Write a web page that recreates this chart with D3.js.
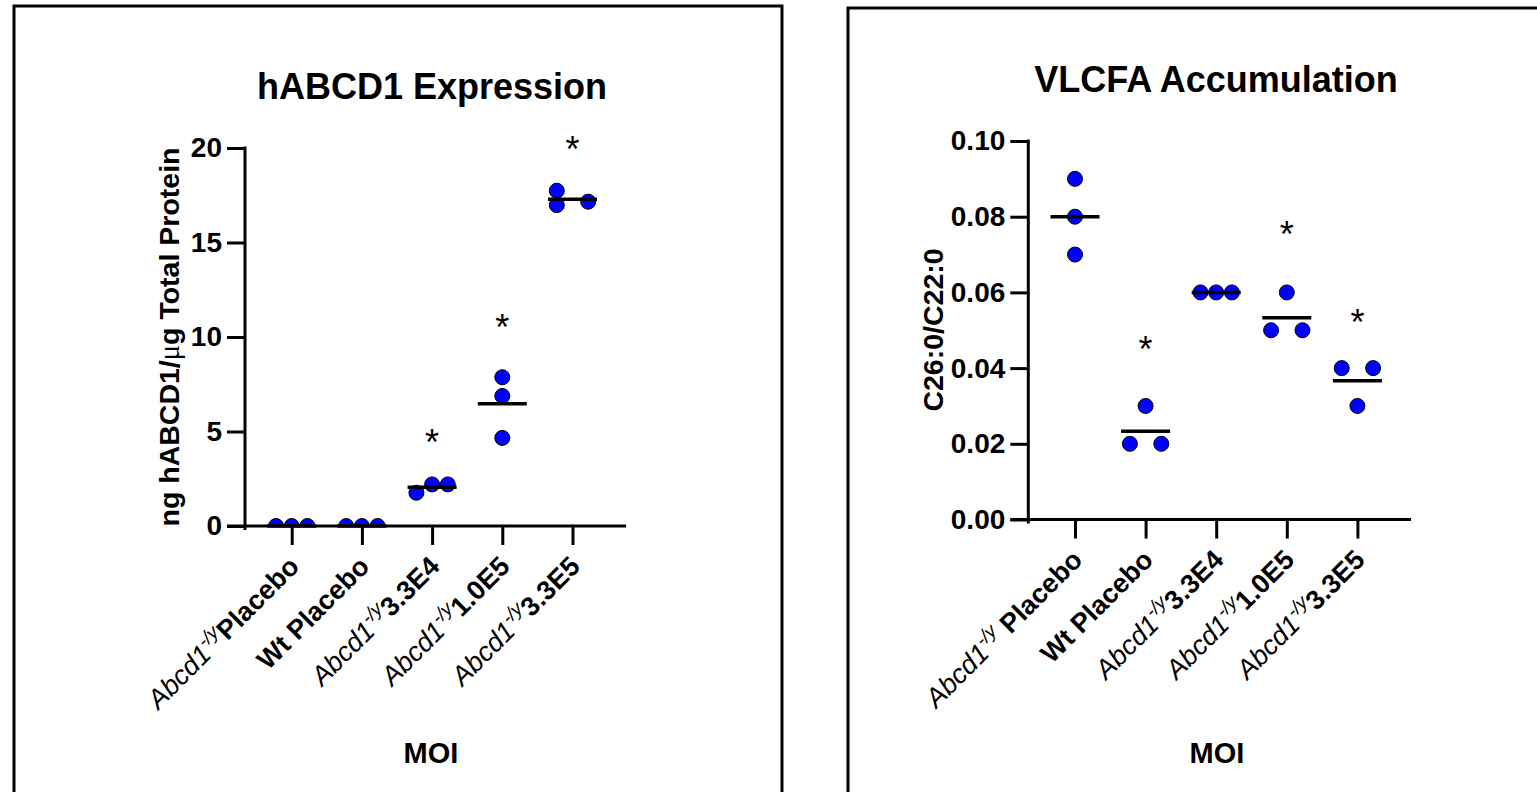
<!DOCTYPE html>
<html>
<head>
<meta charset="utf-8">
<script src="https://cdn.jsdelivr.net/npm/d3@7"></script>
<style>
  body { margin: 0; background: #fff; }
  text { font-family: Arial, "Liberation Sans", Helvetica, sans-serif; }
</style>
</head>
<body>
<div id="chart"></div>
<script>
// groups on the x axis, split in the three styles the labels use
const labelItalic = ["Abcd1", "", "Abcd1", "Abcd1", "Abcd1"];
const labelSup = ["-/y", "", "-/y", "-/y", "-/y"];
const labelBoldA = ["Placebo", "Wt Placebo", "3.3E4", "1.0E5", "3.3E5"];
const labelBoldB = [" Placebo", "Wt Placebo", "3.3E4", "1.0E5", "3.3E5"];

// hABCD1 expression, ng / ug total protein (3 animals per group)
const exprValues = [
  [0, 0, 0],
  [0, 0, 0],
  [1.76, 2.2, 2.2],
  [7.87, 6.88, 4.66],
  [17.74, 16.98, 17.16]
];
// column scatter slot of each point (-1 left, 0 centre, 1 right)
const exprSlots = [[-1, 0, 1], [-1, 0, 1], [-1, 0, 1], [0, 0, 0], [-1, -1, 1]];
const exprStars = [null, null, 4.8, 10.9, 20.3];
const exprTicks = [0, 5, 10, 15, 20];

// VLCFA, C26:0/C22:0 ratio
const vlcfaValues = [
  [0.09, 0.08, 0.07],
  [0.03, 0.02, 0.02],
  [0.06, 0.06, 0.06],
  [0.06, 0.05, 0.05],
  [0.04, 0.04, 0.03]
];
const vlcfaSlots = [[0, 0, 0], [0, -1, 1], [-1, 0, 1], [0, -1, 1], [-1, 1, 0]];
const vlcfaStars = [null, 0.047, null, 0.0774, 0.054];
const vlcfaTicks = [0, 0.02, 0.04, 0.06, 0.08, 0.10];

const W = 1537, H = 792;
const svg = d3.select('#chart').append('svg')
  .attr('width', W)
  .attr('height', H);

const blue = '#0000ff';
const slotGap = 15.7;
const radius = 7.5;

function drawPanel(p) {
  const g = svg.append('g');

  // panel frame (bottom runs off the page)
  g.append('rect')
    .attr('x', p.frame[0]).attr('y', p.frame[1])
    .attr('width', 768).attr('height', 900)
    .attr('fill', 'none').attr('stroke', '#000').attr('stroke-width', 3);

  const y = d3.scaleLinear().domain(p.yDomain).range([p.y0, p.yTop]);
  const x = d3.scalePoint().domain(d3.range(5)).range([p.xFirst, p.xFirst + 4 * p.step]);

  // title
  g.append('text')
    .attr('x', p.titleX).attr('y', p.titleY)
    .attr('text-anchor', 'middle')
    .style('font-size', '36px').style('font-weight', 'bold')
    .text(p.title);

  // dots, clipped at the x axis like the original
  const clipId = 'clip' + p.id;
  g.append('clipPath').attr('id', clipId)
    .append('rect')
    .attr('x', p.axisX).attr('y', 0)
    .attr('width', p.xEnd - p.axisX).attr('height', p.y0);

  const pts = [];
  p.values.forEach((vals, i) => {
    vals.forEach((v, j) => pts.push({ i: i, v: v, s: p.slots[i][j] }));
  });

  g.append('g').attr('clip-path', `url(#${clipId})`)
    .selectAll('circle')
    .data(pts)
    .enter().append('circle')
      .attr('cx', d => x(d.i) + d.s * slotGap)
      .attr('cy', d => y(d.v))
      .attr('r', radius)
      .attr('fill', blue)
      .attr('stroke', '#000')
      .attr('stroke-width', 1);

  // mean lines
  g.append('g').selectAll('line')
    .data(p.values)
    .enter().append('line')
      .attr('x1', (d, i) => x(i) - 24.5)
      .attr('x2', (d, i) => x(i) + 24.5)
      .attr('y1', d => y(d3.mean(d)))
      .attr('y2', d => y(d3.mean(d)))
      .attr('stroke', '#000')
      .attr('stroke-width', 3.5);

  // significance stars
  g.append('g').selectAll('text')
    .data(p.stars.map((s, i) => ({ s: s, i: i })).filter(d => d.s !== null))
    .enter().append('text')
      .attr('x', d => x(d.i))
      .attr('y', d => y(d.s) + 20)
      .attr('text-anchor', 'middle')
      .style('font-size', '36px')
      .text('*');

  // y axis
  const yAxis = d3.axisLeft(y)
    .tickValues(p.ticks)
    .tickSize(18)
    .tickSizeOuter(0)
    .tickPadding(5)
    .tickFormat(p.fmt);
  const ya = g.append('g')
    .attr('transform', `translate(${p.axisX},0)`)
    .call(yAxis);
  ya.select('.domain').remove();
  ya.selectAll('line').attr('stroke', '#000').attr('stroke-width', 3);
  ya.selectAll('text')
    .attr('fill', '#000')
    .style('font-size', '28px').style('font-weight', 'bold')
    .style('font-family', 'Arial, "Liberation Sans", sans-serif');
  g.append('line')
    .attr('x1', p.axisX).attr('x2', p.axisX)
    .attr('y1', p.yTop - 1.5).attr('y2', p.y0 + 4)
    .attr('stroke', '#000').attr('stroke-width', 3);

  // x axis
  const xAxis = d3.axisBottom(x).tickSize(19).tickSizeOuter(0).tickFormat('');
  const xa = g.append('g')
    .attr('transform', `translate(0,${p.y0})`)
    .call(xAxis);
  xa.select('.domain').remove();
  xa.selectAll('line').attr('stroke', '#000').attr('stroke-width', 3);
  g.append('line')
    .attr('x1', p.axisX - 18).attr('x2', p.xEnd)
    .attr('y1', p.y0).attr('y2', p.y0)
    .attr('stroke', '#000').attr('stroke-width', 3);

  // rotated category labels
  const lab = g.append('g').selectAll('text')
    .data(d3.range(5))
    .enter().append('text')
      .attr('transform', i => `translate(${x(i) + 9},${p.y0 + 42}) rotate(-45)`)
      .attr('text-anchor', 'end')
      .style('font-size', '27px')
      .style('white-space', 'pre');
  lab.append('tspan')
    .style('font-style', 'italic')
    .text(i => labelItalic[i]);
  lab.append('tspan')
    .style('font-style', 'italic')
    .style('font-size', '19px')
    .attr('dy', i => labelSup[i] ? -11 : 0)
    .text(i => labelSup[i]);
  lab.append('tspan')
    .style('font-weight', 'bold')
    .attr('dy', i => labelSup[i] ? 11 : 0)
    .text(i => p.boldParts[i]);

  // axis titles
  const yl = g.append('text')
    .attr('transform', `translate(${p.yLabelX},${p.yLabelY}) rotate(-90)`)
    .attr('text-anchor', 'middle')
    .style('font-size', '28.5px').style('font-weight', 'bold');
  p.yLabel.forEach(part => {
    const t = yl.append('tspan').text(part.t);
    if (part.serif) {
      t.style('font-family', '"Liberation Serif", "DejaVu Serif", serif')
        .style('font-weight', 'normal');
    }
  });

  g.append('text')
    .attr('x', p.moiX).attr('y', 763)
    .attr('text-anchor', 'middle')
    .style('font-size', '29px').style('font-weight', 'bold')
    .text('MOI');
}

drawPanel({
  id: 'a',
  frame: [14, 6],
  title: 'hABCD1 Expression',
  titleX: 432, titleY: 99,
  values: exprValues, slots: exprSlots, stars: exprStars,
  ticks: exprTicks, fmt: d3.format('d'),
  yDomain: [0, 20], y0: 526, yTop: 148,
  axisX: 245, xFirst: 291.7, step: 70.2, xEnd: 626,
  boldParts: labelBoldA,
  yLabel: [{ t: 'ng hABCD1/' }, { t: '\u03bc', serif: true }, { t: 'g Total Protein' }],
  yLabelX: 179, yLabelY: 337,
  moiX: 431
});

drawPanel({
  id: 'b',
  frame: [848, 8],
  title: 'VLCFA Accumulation',
  titleX: 1216, titleY: 92,
  values: vlcfaValues, slots: vlcfaSlots, stars: vlcfaStars,
  ticks: vlcfaTicks, fmt: d3.format('.2f'),
  yDomain: [0, 0.10], y0: 519.5, yTop: 141,
  axisX: 1028.3, xFirst: 1075, step: 70.6, xEnd: 1411,
  boldParts: labelBoldB,
  yLabel: [{ t: 'C26:0/C22:0' }],
  yLabelX: 943, yLabelY: 330,
  moiX: 1217
});
</script>
</body>
</html>
